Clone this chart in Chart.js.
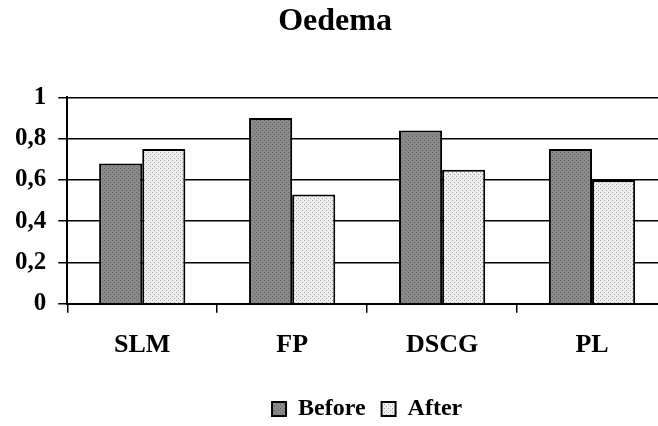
<!DOCTYPE html>
<html>
<head>
<meta charset="utf-8">
<title>Oedema</title>
<script src="https://cdn.jsdelivr.net/npm/chart.js@4"></script>
<style>
	html, body { margin:0; padding:0; background:#fff; overflow:hidden; }
	#wrap { width:658px; height:426px; overflow:hidden; }
</style>
</head>
<body>
<div id="wrap"><canvas id="chart" width="672" height="426"></canvas></div>
<script>
const categories = ['SLM', 'FP', 'DSCG', 'PL']
const before = [0.68, 0.90, 0.84, 0.75]
const after = [0.75, 0.53, 0.65, 0.60]
const seriesNames = ['Before', 'After']

const FONT = "'Liberation Serif', 'Times New Roman', serif"

// small dotted fills, like the old office hatching
function dots(bg, dot){
	const c = document.createElement('canvas')
	c.width = c.height = 4
	const x = c.getContext('2d')
	x.fillStyle = bg
	x.fillRect(0, 0, 4, 4)
	x.fillStyle = dot
	x.fillRect(0, 0, 1, 1)
	x.fillRect(2, 2, 1, 1)
	return x.createPattern(c, 'repeat')
}

function comma(v){
	if(v === 0) return '0'
	if(Math.abs(v - 1) < 1e-9) return '1'
	return v.toFixed(1).replace('.', ',')
}

new Chart(document.getElementById('chart'), {
	type:'bar',
	data:{
		labels:categories,
		datasets:[
			{ label:seriesNames[0], data:before, backgroundColor:dots('#8a8a8a', '#626262'), borderColor:'#000', borderWidth:2, categoryPercentage:0.575, barPercentage:1 },
			{ label:seriesNames[1], data:after, backgroundColor:dots('#eeeeee', '#a0a0a0'), borderColor:'#000', borderWidth:2, categoryPercentage:0.575, barPercentage:1 }
		]
	},
	options:{
		responsive:false,
		animation:false,
		devicePixelRatio:1,
		layout:{ padding:{ left:3, right:5, top:0, bottom:-5 } },
		plugins:{
			tooltip:{ enabled:false },
			title:{
				display:true,
				text:'Oedema',
				color:'#000',
				font:{ family:FONT, size:32, weight:'bold' },
				padding:{ top:3, bottom:56 }
			},
			legend:{
				position:'bottom',
				fullSize:false,
				labels:{
					color:'#000',
					font:{ family:FONT, size:24, weight:'bold' },
					boxWidth:14,
					boxHeight:14,
					padding:16
				}
			}
		},
		scales:{
			x:{
				afterFit(scale){ scale.height += 3 },
				grid:{ drawOnChartArea:false, drawTicks:true, tickLength:9, color:'#000', lineWidth:1.5 },
				border:{ color:'#000', width:2 },
				ticks:{ color:'#000', font:{ family:FONT, size:26, weight:'bold' }, padding:17 }
			},
			y:{
				min:0,
				max:1,
				grid:{ color:'#000', lineWidth:1.5, tickLength:9 },
				border:{ color:'#000', width:2 },
				ticks:{ stepSize:0.2, color:'#000', font:{ family:FONT, size:25, weight:'bold' }, padding:12, callback:comma }
			}
		}
	}
})
</script>
</body>
</html>
